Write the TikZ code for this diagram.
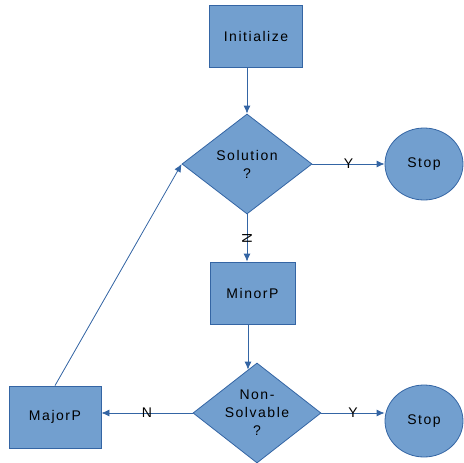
\documentclass[tikz,border=0pt]{standalone}
\usepackage{fontspec}
\setmainfont{Liberation Sans}[LetterSpace=11]
\usetikzlibrary{shapes.geometric,arrows.meta,calc}
\definecolor{boxfill}{HTML}{729FCF}
\definecolor{boxline}{HTML}{3465A4}
\begin{document}
\begin{tikzpicture}[x=1pt,y=-1pt,
  font=\fontsize{14}{18}\selectfont,
  procbox/.style={draw=boxline,fill=boxfill,line width=0.8pt,rectangle,inner sep=0pt},
  decision/.style={draw=boxline,fill=boxfill,line width=0.8pt,diamond,inner sep=0pt,
     minimum width=130pt,minimum height=100pt},
  terminal/.style={draw=boxline,fill=boxfill,line width=0.8pt,ellipse,inner sep=0pt,
     minimum width=78pt,minimum height=72pt},
  flow/.style={draw=boxline,line width=0.8pt,-{Latex[length=8pt,width=7pt]}},
  edgelabel/.style={inner sep=0pt}
]
\useasboundingbox (0,0) rectangle (464,463);
\node[procbox,minimum width=93pt,minimum height=62pt] (init) at (256,36) {Initialize};
\node[decision,label={[align=center]center:Solution\\?}] (sol) at (247,164) {};
\node[terminal] (stop1) at (424,164) {Stop};
\node[procbox,minimum width=85pt,minimum height=62pt] (minor) at (252.5,293) {MinorP};
\node[decision,minimum width=128pt,label={[align=center]center:Non-\\Solvable\\?}] (ns) at (257,413) {};
\node[procbox,minimum width=92pt,minimum height=62pt] (major) at (55,417) {MajorP};
\node[terminal] (stop2) at (424,421) {Stop};
\coordinate (nsin) at ($(ns.north)!0.14!(ns.west)$);

\draw[flow] (sol.north |- init.south) -- (sol.north);
\draw[flow] (sol.east) -- node[edgelabel]{Y} (stop1.west);
\draw[flow] (sol.south) -- node[edgelabel,rotate=90]{N} (sol.south |- minor.north);
\draw[flow] (nsin |- minor.south) -- (nsin);
\draw[flow] (ns.west) -- node[edgelabel]{N} (ns.west -| major.east);
\draw[flow] (ns.east) -- node[edgelabel]{Y} (ns.east -| stop2.west);
\draw[flow] (major.north) -- (sol.west);
\end{tikzpicture}
\end{document}
